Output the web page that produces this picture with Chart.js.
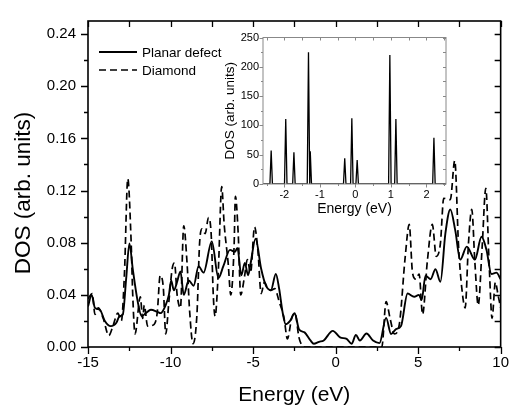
<!DOCTYPE html>
<html><head><meta charset="utf-8">
<script src="https://cdn.jsdelivr.net/npm/chart.js@4.4.1/dist/chart.umd.min.js"></script>
<style>
html,body{margin:0;padding:0;background:#fff;}
#wrap{position:relative;width:516px;height:408px;overflow:hidden;}
#main{position:absolute;left:0;top:0;}
#inset{position:absolute;left:200px;top:25px;}
</style></head><body>
<div id="wrap">
<canvas id="main" width="516" height="408"></canvas>
<canvas id="inset" width="260" height="200"></canvas>
</div>
<script>
// ---- Main panel data (Energy in eV, DOS in arb. units) ----
const planarEnergy = [-15,-14.78,-14.58,-14.28,-13.98,-13.62,-13.28,-13.09,-12.89,-12.69,-12.49,-12.29,-11.99,-11.75,-11.49,-11.19,-10.8,-10.6,-10.3,-10.1,-9.96,-9.8,-9.6,-9.4,-9.2,-8.9,-8.6,-8.3,-8.0,-7.5,-7.1,-6.8,-6.4,-6.1,-5.95,-5.71,-5.5,-5.3,-5.15,-4.85,-4.51,-4.22,-3.92,-3.62,-3.42,-3.22,-3.02,-2.76,-2.48,-2.22,-1.88,-1.52,-1.32,-1.0,-0.72,-0.17,0.27,0.67,0.97,1.23,1.47,1.87,2.27,2.66,3.06,3.36,3.66,3.96,4.36,4.76,5.05,5.21,5.45,5.75,6.05,6.35,6.65,6.95,7.25,7.55,7.95,8.44,8.84,9.14,9.44,9.74,10];
const planarDOS = [0.031,0.040,0.030,0.0286,0.020,0.016,0.0186,0.0236,0.025,0.052,0.0795,0.060,0.035,0.0236,0.026,0.0286,0.027,0.026,0.032,0.040,0.051,0.0435,0.050,0.058,0.040,0.051,0.047,0.062,0.057,0.081,0.053,0.062,0.0745,0.073,0.076,0.055,0.0645,0.055,0.064,0.083,0.060,0.047,0.0435,0.056,0.0447,0.0273,0.0174,0.020,0.026,0.0137,0.0112,0.005,0.0025,0.004,0.005,0.0124,0.0074,0.0062,0.0025,0.0092,0.005,0.0104,0.005,0.003,0.0223,0.010,0.0137,0.016,0.041,0.0385,0.040,0.036,0.0547,0.052,0.0596,0.050,0.087,0.1055,0.0894,0.067,0.077,0.067,0.0845,0.0745,0.056,0.057,0.052];

const diamondEnergy = [-15,-14.74,-14.58,-14.38,-14.08,-13.74,-13.49,-13.19,-12.98,-12.79,-12.59,-12.39,-12.29,-12.15,-11.83,-11.69,-11.59,-11.39,-10.99,-10.8,-10.63,-10.44,-10.29,-10.1,-9.9,-9.76,-9.6,-9.4,-9.2,-9.0,-8.84,-8.64,-8.4,-8.24,-8.1,-7.9,-7.7,-7.54,-7.4,-7.3,-7.1,-6.9,-6.75,-6.51,-6.35,-6.15,-6.07,-5.9,-5.75,-5.51,-5.35,-5.15,-4.91,-4.71,-4.51,-4.31,-4.11,-3.92,-3.68,-3.42,-3.12,-2.92,-2.66,-2.46,-2.22,-2.02,-1.8,2.8,3.06,3.3,3.56,3.86,4.22,4.46,4.66,4.86,5.06,5.27,5.56,5.86,6.1,6.35,6.55,6.95,7.22,7.45,7.65,7.85,8.05,8.25,8.44,8.64,8.88,9.1,9.3,9.48,9.68,9.84,10];
const diamondDOS = [0.037,0.041,0.025,0.030,0.022,0.0087,0.016,0.026,0.020,0.057,0.129,0.082,0.040,0.010,0.0385,0.022,0.032,0.016,0.0174,0.027,0.0547,0.046,0.010,0.0348,0.060,0.0645,0.040,0.030,0.093,0.0645,0.027,0.0025,0.025,0.0795,0.0906,0.087,0.0993,0.087,0.037,0.0236,0.060,0.123,0.094,0.0645,0.040,0.077,0.1155,0.087,0.040,0.0547,0.067,0.057,0.092,0.0745,0.041,0.0497,0.0447,0.0435,0.0447,0.0348,0.022,0.0062,0.022,0.026,0.0074,0.001,0,0,0.0348,0.022,0.010,0.0174,0.0695,0.094,0.057,0.052,0.056,0.025,0.066,0.094,0.0695,0.0795,0.114,0.113,0.143,0.077,0.0447,0.030,0.0795,0.1055,0.0645,0.032,0.077,0.1217,0.0645,0.022,0.0497,0.040,0.030];

const xTickLabels = [-15,-10,-5,0,5,10];
const yTickLabels = [0,0.04,0.08,0.12,0.16,0.20,0.24];
const mainXTitle = 'Energy (eV)';
const mainYTitle = 'DOS (arb. units)';

// ---- Inset data ----
const insetPeakEnergy = [-2.37,-1.96,-1.73,-1.32,-1.27,-0.30,-0.10,0.05,0.97,1.14,2.21];
const insetPeakDOS    = [57,111,54,225,56,44,112,41,220,111,79];
const insetXTicks = [-2,-1,0,1,2];
const insetYTicks = [0,50,100,150,200,250];

const FONT = "'Liberation Sans', Arial, Helvetica, sans-serif";

function toPoints(xs, ys){ return xs.map((x,i)=>({x:x, y:ys[i]})); }

function spikePoints(es, hs, xmin, xmax, hw){
  const pts=[{x:xmin,y:0}];
  const idx = es.map((e,i)=>i).sort((a,b)=>es[a]-es[b]);
  idx.forEach(i=>{ pts.push({x:es[i]-hw,y:0}); pts.push({x:es[i],y:hs[i]}); pts.push({x:es[i]+hw,y:0}); });
  pts.push({x:xmax,y:0});
  return pts;
}

function near(list, v){ return list.some(t=>Math.abs(t-v)<1e-6); }

const framePlugin = {
  id:'frame',
  afterDraw(chart, args, o){
    const {ctx, chartArea:a} = chart;
    const x = chart.scales.x, y = chart.scales.y;
    ctx.save();
    ctx.strokeStyle = o.color; ctx.lineWidth = o.width;
    ctx.strokeRect(a.left, a.top, a.right-a.left, a.bottom-a.top);
    ctx.beginPath();
    for (let v = o.xStart; v <= x.max + 1e-9; v += o.xStep){
      const px = Math.round(x.getPixelForValue(v)) + 0.5;
      const L = near(o.xMajor, v) ? o.major : o.minor;
      ctx.moveTo(px, a.bottom); ctx.lineTo(px, a.bottom + L);
      ctx.moveTo(px, a.top); ctx.lineTo(px, a.top + o.topLen);
    }
    for (let v = o.yStart; v <= y.max + 1e-9; v += o.yStep){
      const py = Math.round(y.getPixelForValue(v)) + 0.5;
      const L = near(o.yMajor, v) ? o.major : o.minor;
      ctx.moveTo(a.left, py); ctx.lineTo(a.left - L, py);
      ctx.moveTo(a.right, py); ctx.lineTo(a.right - (near(o.yMajor, v) ? o.rightMajor : o.rightMinor), py);
    }
    ctx.lineWidth = o.tickWidth;
    ctx.stroke();
    if (o.yTitle){
      ctx.fillStyle = '#000';
      ctx.font = o.yTitle.size + 'px ' + FONT;
      ctx.textAlign = 'center'; ctx.textBaseline = 'middle';
      ctx.translate(o.yTitle.x, (a.top + a.bottom)/2 + o.yTitle.dy);
      ctx.rotate(-Math.PI/2);
      ctx.fillText(o.yTitle.text, 0, 0);
    }
    ctx.restore();
  }
};

const legendPlugin = {
  id:'legendLines',
  afterDraw(chart, args, o){
    if (!o.show) return;
    const {ctx, chartArea:a} = chart;
    ctx.save();
    chart.data.datasets.forEach((ds, i)=>{
      const yy = a.top + o.top + i*o.gap;
      ctx.beginPath();
      ctx.strokeStyle = ds.borderColor; ctx.lineWidth = ds.borderWidth;
      ctx.setLineDash(ds.borderDash || []);
      ctx.moveTo(a.left + o.left, yy); ctx.lineTo(a.left + o.left + o.len, yy);
      ctx.stroke();
      ctx.setLineDash([]);
      ctx.fillStyle = '#000';
      ctx.font = o.fontSize + 'px ' + FONT;
      ctx.textBaseline = 'middle'; ctx.textAlign = 'left';
      ctx.fillText(ds.label, a.left + o.left + o.len + 5, yy + 1);
    });
    ctx.restore();
  }
};

new Chart(document.getElementById('main'), {
  type:'line',
  data:{ datasets:[
    { label:'Planar defect', data: toPoints(planarEnergy, planarDOS), borderColor:'#000', borderWidth:1.9,
      pointRadius:0, cubicInterpolationMode:'monotone', fill:false },
    { label:'Diamond', data: toPoints(diamondEnergy, diamondDOS), borderColor:'#000', borderWidth:1.7,
      borderDash:[7,4], pointRadius:0, cubicInterpolationMode:'monotone', fill:false }
  ]},
  options:{
    responsive:false, animation:false, devicePixelRatio:1,
    layout:{padding:{top:10,right:10,left:0,bottom:0}},
    plugins:{
      legend:{display:false}, tooltip:{enabled:false},
      frame:{color:'#000', width:1.6, tickWidth:1.3, xStart:-15, xStep:2.5, xMajor:xTickLabels,
             yStart:0, yStep:0.02, yMajor:yTickLabels, major:7, minor:4, topLen:6, rightMajor:6, rightMinor:6,
             yTitle:{text:mainYTitle, size:22.5, x:24, dy:9}},
      legendLines:{show:true, left:11, top:31, gap:18, len:38, fontSize:13.5}
    },
    scales:{
      x:{ type:'linear', min:-15, max:10,
          afterBuildTicks:s=>{ s.ticks = xTickLabels.map(v=>({value:v})); },
          afterFit:s=>{ s.height = 61; },
          grid:{display:false, drawTicks:false}, border:{display:false},
          ticks:{font:{size:15, family:FONT}, color:'#000', padding:7, maxRotation:0, autoSkip:false,
                 callback:v=>String(v)},
          title:{display:true, text:mainXTitle, color:'#000', font:{size:21, family:FONT}, padding:{top:0,bottom:0}} },
      y:{ type:'linear', min:0, max:0.25,
          afterBuildTicks:s=>{ s.ticks = yTickLabels.map(v=>({value:v})); },
          afterFit:s=>{ s.width = 88; },
          grid:{display:false, drawTicks:false}, border:{display:false},
          ticks:{font:{size:15, family:FONT}, color:'#000', padding:12, callback:v=>Number(v).toFixed(2)},
          title:{display:false} }
    }
  },
  plugins:[framePlugin, legendPlugin]
});

new Chart(document.getElementById('inset'), {
  type:'line',
  data:{ datasets:[
    { label:'Inset', data: spikePoints(insetPeakEnergy, insetPeakDOS, -2.6, 2.55, 0.035),
      borderColor:'#000', borderWidth:1.3, pointRadius:0, tension:0, fill:false }
  ]},
  options:{
    responsive:false, animation:false, devicePixelRatio:1,
    layout:{padding:{top:12.5,right:14,left:0,bottom:0}},
    plugins:{
      legend:{display:false}, tooltip:{enabled:false},
      frame:{color:'#888', width:1, tickWidth:1, xStart:-2.5, xStep:0.5, xMajor:insetXTicks,
             yStart:0, yStep:25, yMajor:insetYTicks, major:3.5, minor:2, topLen:3, rightMajor:3, rightMinor:3},
      legendLines:{show:false}
    },
    scales:{
      x:{ type:'linear', min:-2.6, max:2.55,
          afterBuildTicks:s=>{ s.ticks = insetXTicks.map(v=>({value:v})); },
          afterFit:s=>{ s.height = 41; },
          grid:{display:false, drawTicks:false}, border:{display:false},
          ticks:{font:{size:11, family:FONT}, color:'#000', padding:4, maxRotation:0, autoSkip:false, callback:v=>String(v)},
          title:{display:true, text:'Energy (eV)', color:'#000', font:{size:14, family:FONT}, padding:{top:0,bottom:7.6}} },
      y:{ type:'linear', min:0, max:250,
          afterBuildTicks:s=>{ s.ticks = insetYTicks.map(v=>({value:v})); },
          afterFit:s=>{ s.width = 63; },
          grid:{display:false, drawTicks:false}, border:{display:false},
          ticks:{font:{size:11, family:FONT}, color:'#000', padding:4, callback:v=>String(v)},
          title:{display:true, text:'DOS (arb. units)', color:'#000', font:{size:13.5, family:FONT}, padding:{top:22,bottom:0}} }
    }
  },
  plugins:[framePlugin, legendPlugin]
});
</script>
</body></html>
